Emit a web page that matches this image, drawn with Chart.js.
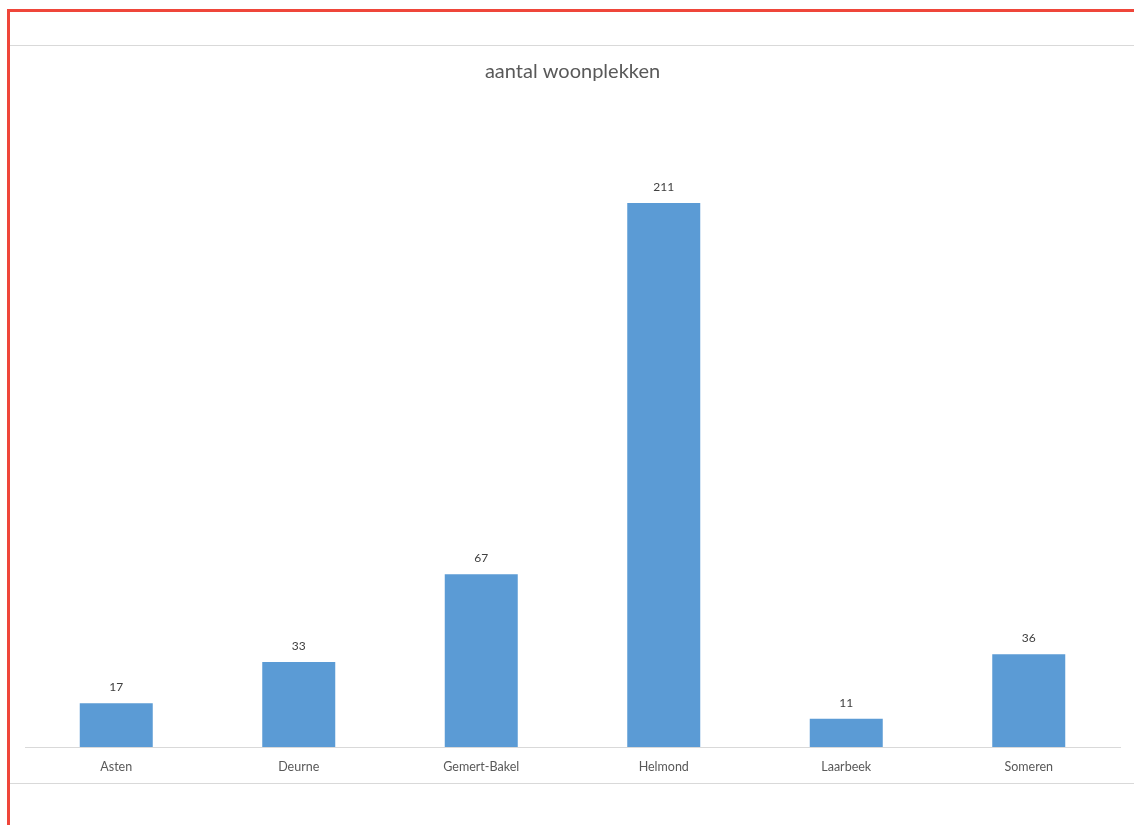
<!DOCTYPE html>
<html>
<head>
<meta charset="utf-8">
<script src="https://cdn.jsdelivr.net/npm/chart.js@4"></script>
<style>
	body { margin: 0; background: #ffffff; }
	#wrap { position: relative; width: 1134px; height: 825px; overflow: hidden; }
	#graph { position: absolute; left: 0; top: 0; }
	.redline { position: absolute; background: #ef463a; }
	.greyline { position: absolute; background: #d9d9d9; height: 1px; }
</style>
</head>
<body>
<div id="wrap">
	<div class="redline" style="left:7px; top:9px; width:1127px; height:3px;"></div>
	<div class="redline" style="left:7px; top:9px; width:3px; height:816px;"></div>
	<div class="greyline" style="left:10px; top:45px; width:1124px;"></div>
	<div class="greyline" style="left:10px; top:783px; width:1124px;"></div>
	<canvas id="graph" width="1134" height="825"></canvas>
</div>
<script>
const gemeenten = ["Asten", "Deurne", "Gemert-Bakel", "Helmond", "Laarbeek", "Someren"];
const woonplekken = [17, 33, 67, 211, 11, 36];
const yMax = 250;

// waarden boven de staven zetten
const barLabels = {
	id: 'barLabels',
	afterDatasetsDraw(chart) {
		const c = chart.ctx;
		const meta = chart.getDatasetMeta(0);
		c.save();
		c.font = '12px Lato';
		c.fillStyle = '#404040';
		c.textAlign = 'center';
		c.textBaseline = 'middle';
		meta.data.forEach(function(bar, i) {
			c.fillText(woonplekken[i], bar.x, bar.y - 16);
		});
		c.restore();
	}
};

const ctx = document.getElementById('graph').getContext('2d');

const myChart = new Chart(ctx, {
	type: 'bar',
	data: {
		labels: gemeenten,
		datasets: [{
			label: 'aantal woonplekken',
			data: woonplekken,
			backgroundColor: '#5b9bd5',
			categoryPercentage: 1,
			barPercentage: 0.4
		}]
	},
	options: {
		responsive: false,
		animation: false,
		layout: {
			padding: { left: 25, right: 14, top: 50, bottom: 42 }
		},
		plugins: {
			legend: { display: false },
			tooltip: { enabled: false },
			title: {
				display: true,
				text: 'aantal woonplekken',
				color: '#595959',
				font: { family: 'Lato', size: 20, weight: 'normal' },
				padding: { top: 9.5, bottom: 19 }
			}
		},
		scales: {
			x: {
				grid: { display: false, drawTicks: false },
				border: { display: true, color: '#d9d9d9', width: 1 },
				ticks: {
					color: '#595959',
					font: { family: 'Lato', size: 12.5 },
					padding: 12,
					maxRotation: 0
				},
				afterFit(scale) {
					scale.height = 36;
				}
			},
			y: {
				display: false,
				min: 0,
				max: yMax
			}
		}
	},
	plugins: [barLabels]
});
</script>
</body>
</html>
